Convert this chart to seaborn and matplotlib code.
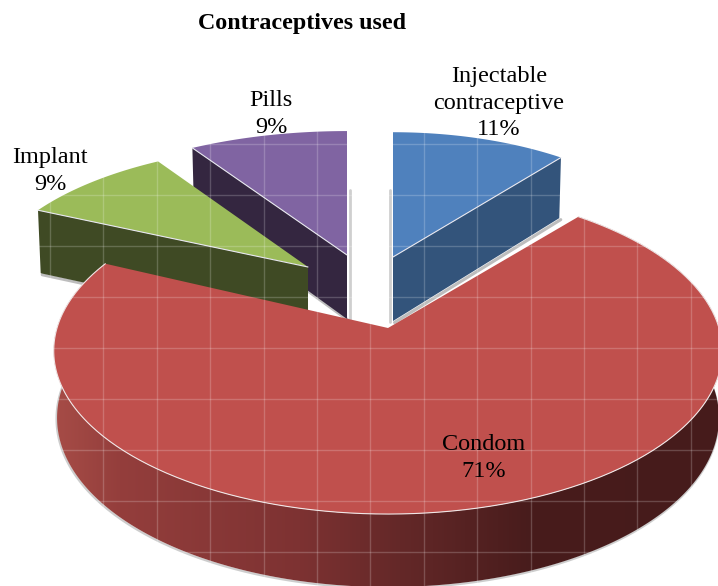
import numpy as np
import matplotlib
matplotlib.use("Agg")
import matplotlib.pyplot as plt
from matplotlib.patches import Polygon
import seaborn as sns

# ---- chart data ----
categories = ["Injectable\ncontraceptive", "Condom", "Implant", "Pills"]
shares = [11, 71, 9, 9]
share_labels = ["11%", "71%", "9%", "9%"]
title = "Contraceptives used"

# ---- styling ----
top_colors = sns.color_palette(["#4F81BD", "#C0504D", "#9BBB59", "#8064A2"])
wall_colors = ["#33547B", "#6B2B2A", "#3F4A24", "#342640"]
apex = {"Injectable\ncontraceptive": (393, 257), "Condom": (388, 328),
        "Implant": (308, 267), "Pills": (347, 255)}
radii = {"Injectable\ncontraceptive": (298, 146), "Condom": (331, 160),
         "Implant": (320, 143), "Pills": (330, 145)}
persp = {"Injectable\ncontraceptive": 0.17, "Condom": 0.14, "Implant": 0.17, "Pills": 0.17}
label_pos = {"Injectable\ncontraceptive": (499, 103), "Condom": (484, 458),
             "Implant": (50, 171), "Pills": (271, 114)}

sns.set_theme(style="white")
plt.rcParams["font.family"] = ["Liberation Serif", "DejaVu Serif"]

fig = plt.figure(figsize=(7.18, 5.86), dpi=100)
ax = fig.add_axes([0, 0, 1, 1])
ax.set_xlim(0, 718)
ax.set_ylim(586, 0)
ax.axis("off")


def rim(name, theta):
    """Project pie angle (degrees clockwise from 12 o'clock) on the tilted disc."""
    t = np.radians(theta)
    u, v = np.sin(t), -np.cos(t)
    a, b = radii[name]
    w = 1 - persp[name] * v
    cx, cy = apex[name]
    return cx + a * u / w, cy + b * v / w


def lower(name, x, y, theta):
    """Same rim point on the lower face of the disc."""
    v = -np.cos(np.radians(theta))
    cx = apex[name][0]
    return cx + 0.99 * (x - cx), y + 66 + 7 * v


ends = np.cumsum(shares) / np.sum(shares) * 360
starts = ends - np.array(shares) / np.sum(shares) * 360
span = {c: (s, e) for c, s, e in zip(categories, starts, ends)}
idx = {c: i for i, c in enumerate(categories)}


def top_face(name):
    s, e = span[name]
    th = np.linspace(s, e, 160)
    xs, ys = rim(name, th)
    c = apex[name]
    return np.vstack([[c], np.column_stack([xs, ys])])


def cut_wall(name, theta):
    c = apex[name]
    x, y = rim(name, theta)
    lx, ly = lower(name, x, y, theta)
    clx, cly = c[0], c[1] + 64
    return [c, (x, y), (lx, ly), (clx, cly)]


# soft shadows along the gap between the separated slices
for name, dx in [("Pills", 2.5), ("Injectable\ncontraceptive", -3.5)]:
    ax.plot([apex[name][0] + dx] * 2, [190, apex[name][1] + 65], color="#CFCFCF", lw=2, zorder=1)

# back slices first: each has one visible cut face
for name, th_wall in [("Pills", span["Pills"][0]),
                      ("Injectable\ncontraceptive", span["Injectable\ncontraceptive"][1]),
                      ("Implant", span["Implant"][0])]:
    wall = cut_wall(name, th_wall)
    ax.plot([p[0] + 1.5 for p in wall[2:]], [p[1] + 1.5 for p in wall[2:]],
            color="#BDBDBD", lw=2.2, zorder=2)
    ax.add_patch(Polygon(top_face(name), closed=True, fc=top_colors[idx[name]],
                         ec="none", zorder=3))
    ax.add_patch(Polygon(wall, closed=True, fc=wall_colors[idx[name]], ec="none", zorder=3))
    ax.plot([wall[0][0], wall[1][0]], [wall[0][1], wall[1][1]],
            color="#E8E8F0", lw=0.8, zorder=4)

# big slice: shaded outer wall, then its top
name = "Condom"
s, e = span[name]
th = np.linspace(s, e, 400)
xs, ys = rim(name, th)
lx, ly = lower(name, xs, ys, th)
shade_x = [60, 120, 300, 400, 530, 720]
shade_r = [165, 148, 125, 100, 72, 70]
shade_g = [75, 62, 50, 40, 28, 27]
shade_b = [70, 60, 50, 40, 28, 27]
px = np.arange(718)
shade = np.column_stack([np.interp(px, shade_x, shade_r),
                         np.interp(px, shade_x, shade_g),
                         np.interp(px, shade_x, shade_b)]) / 255
ax.plot(lx - 0.5, ly + 1, color="#CDCDCD", lw=1.6, zorder=5)
outline = Polygon(np.vstack([np.column_stack([xs, ys]),
                             np.column_stack([lx, ly])[::-1]]),
                  closed=True, fc="none", ec="none", transform=ax.transData)
ax.add_patch(outline)
im = ax.imshow(shade[np.newaxis, :, :], extent=(0, 718, 586, 0), aspect="auto",
               interpolation="bilinear", zorder=6)
im.set_clip_path(outline)
ax.set_xlim(0, 718)
ax.set_ylim(586, 0)
ax.add_patch(Polygon(top_face(name), closed=True, fc=top_colors[idx[name]], ec="none", zorder=7))
ax.plot(xs, ys, color="#F0E6E6", lw=0.8, zorder=8)

# faint chart-area grid visible over the marks
for gx in np.arange(50, 718, 53.4):
    ax.axvline(gx, color="white", alpha=0.2, lw=1, zorder=9)
for gy in np.arange(144, 586, 51):
    ax.axhline(gy, color="white", alpha=0.2, lw=1, zorder=9)

# text
ax.text(302, 23, title, ha="center", va="center", fontsize=17.3, fontweight="bold",
        color="black", zorder=10)
for c, lab in zip(categories, share_labels):
    x, y = label_pos[c]
    ax.text(x, y, f"{c}\n{lab}", ha="center", va="center", fontsize=17.5,
            linespacing=1.36, color="black", zorder=10)

fig.savefig("out.png", dpi=100)
